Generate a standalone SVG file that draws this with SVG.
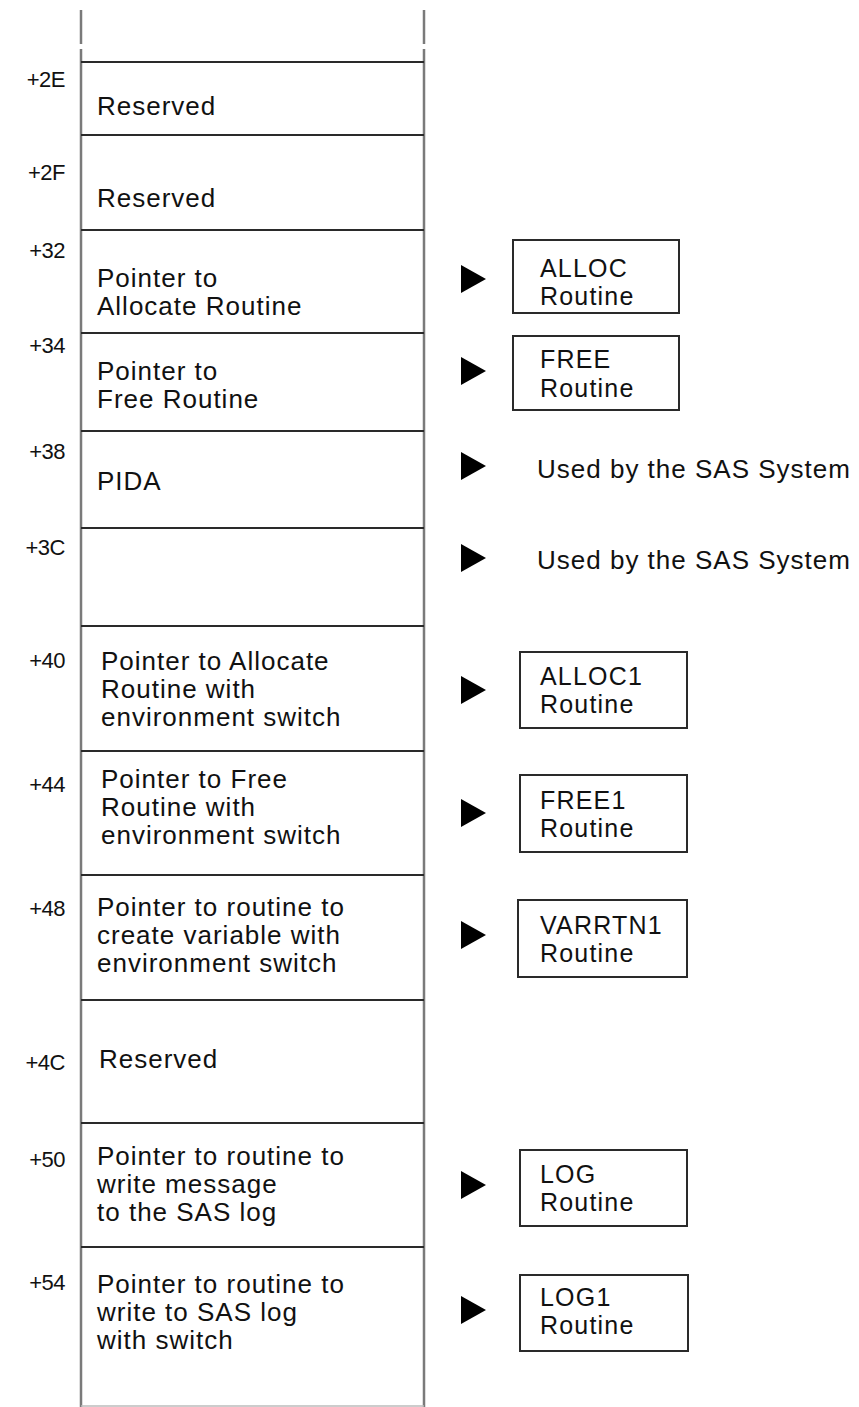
<svg xmlns="http://www.w3.org/2000/svg" width="859" height="1407" viewBox="0 0 859 1407">
<style>
.t{font-family:"Liberation Sans",Arial,sans-serif;font-size:26px;letter-spacing:1px;fill:#111}
.r{font-family:"Liberation Sans",Arial,sans-serif;font-size:25px;letter-spacing:1.2px;fill:#111}
.o{font-family:"Liberation Sans",Arial,sans-serif;font-size:22px;letter-spacing:-0.5px;fill:#111;text-anchor:end}
.v{stroke:#7a7a7a;stroke-width:2.5;fill:none}
.h{stroke:#2a2a2a;stroke-width:2;fill:none}
.b{stroke:#2a2a2a;stroke-width:2;fill:#fff}
.a{fill:#000}
</style>
<rect width="859" height="1407" fill="#fff"/>
<g id="column">
<line class="v" x1="81" y1="10" x2="81" y2="44"/>
<line class="v" x1="424" y1="10" x2="424" y2="44"/>
<line class="v" x1="81" y1="49" x2="81" y2="1407"/>
<line class="v" x1="424" y1="49" x2="424" y2="1407"/>
<line x1="81" y1="1406" x2="424" y2="1406" stroke="#bbb" stroke-width="1.5"/>
</g>
<g id="row-2E">
<line class="h" x1="81" y1="62" x2="424" y2="62"/>
<text class="o" x="65" y="87">+2E</text>
<text class="t" x="97" y="115">Reserved</text>
</g>
<g id="row-2F">
<line class="h" x1="81" y1="135" x2="424" y2="135"/>
<text class="o" x="65" y="180">+2F</text>
<text class="t" x="97" y="207">Reserved</text>
</g>
<g id="row-32">
<line class="h" x1="81" y1="230" x2="424" y2="230"/>
<text class="o" x="65" y="258">+32</text>
<text class="t" x="97" y="287">Pointer to</text>
<text class="t" x="97" y="315">Allocate Routine</text>
</g>
<g id="row-34">
<line class="h" x1="81" y1="333" x2="424" y2="333"/>
<text class="o" x="65" y="353">+34</text>
<text class="t" x="97" y="380">Pointer to</text>
<text class="t" x="97" y="408">Free Routine</text>
</g>
<g id="row-38">
<line class="h" x1="81" y1="431" x2="424" y2="431"/>
<text class="o" x="65" y="459">+38</text>
<text class="t" x="97" y="490">PIDA</text>
</g>
<g id="row-3C">
<line class="h" x1="81" y1="528" x2="424" y2="528"/>
<text class="o" x="65" y="555">+3C</text>
</g>
<g id="row-40">
<line class="h" x1="81" y1="626" x2="424" y2="626"/>
<text class="o" x="65" y="668">+40</text>
<text class="t" x="101" y="670">Pointer to Allocate</text>
<text class="t" x="101" y="698">Routine with</text>
<text class="t" x="101" y="726">environment switch</text>
</g>
<g id="row-44">
<line class="h" x1="81" y1="751" x2="424" y2="751"/>
<text class="o" x="65" y="792">+44</text>
<text class="t" x="101" y="788">Pointer to Free</text>
<text class="t" x="101" y="816">Routine with</text>
<text class="t" x="101" y="844">environment switch</text>
</g>
<g id="row-48">
<line class="h" x1="81" y1="875" x2="424" y2="875"/>
<text class="o" x="65" y="916">+48</text>
<text class="t" x="97" y="916">Pointer to routine to</text>
<text class="t" x="97" y="944">create variable with</text>
<text class="t" x="97" y="972">environment switch</text>
</g>
<g id="row-4C">
<line class="h" x1="81" y1="1000" x2="424" y2="1000"/>
<text class="o" x="65" y="1070">+4C</text>
<text class="t" x="99" y="1068">Reserved</text>
</g>
<g id="row-50">
<line class="h" x1="81" y1="1123" x2="424" y2="1123"/>
<text class="o" x="65" y="1167">+50</text>
<text class="t" x="97" y="1165">Pointer to routine to</text>
<text class="t" x="97" y="1193">write message</text>
<text class="t" x="97" y="1221">to the SAS log</text>
</g>
<g id="row-54">
<line class="h" x1="81" y1="1247" x2="424" y2="1247"/>
<text class="o" x="65" y="1290">+54</text>
<text class="t" x="97" y="1293">Pointer to routine to</text>
<text class="t" x="97" y="1321">write to SAS log</text>
<text class="t" x="97" y="1349">with switch</text>
</g>
<g id="alloc">
<rect class="b" x="513" y="240" width="166" height="73"/>
<text class="r" x="540" y="277">ALLOC</text>
<text class="r" x="540" y="305">Routine</text>
</g>
<g id="free">
<rect class="b" x="513" y="336" width="166" height="74"/>
<text class="r" x="540" y="368">FREE</text>
<text class="r" x="540" y="397">Routine</text>
</g>
<g id="sas1">
<text class="t" x="537" y="478">Used by the SAS System</text>
</g>
<g id="sas2">
<text class="t" x="537" y="569">Used by the SAS System</text>
</g>
<g id="alloc1">
<rect class="b" x="520" y="652" width="167" height="76"/>
<text class="r" x="540" y="685">ALLOC1</text>
<text class="r" x="540" y="713">Routine</text>
</g>
<g id="free1">
<rect class="b" x="520" y="775" width="167" height="77"/>
<text class="r" x="540" y="809">FREE1</text>
<text class="r" x="540" y="837">Routine</text>
</g>
<g id="varrtn1">
<rect class="b" x="518" y="900" width="169" height="77"/>
<text class="r" x="540" y="934">VARRTN1</text>
<text class="r" x="540" y="962">Routine</text>
</g>
<g id="log">
<rect class="b" x="520" y="1150" width="167" height="76"/>
<text class="r" x="540" y="1183">LOG</text>
<text class="r" x="540" y="1211">Routine</text>
</g>
<g id="log1">
<rect class="b" x="520" y="1275" width="168" height="76"/>
<text class="r" x="540" y="1306">LOG1</text>
<text class="r" x="540" y="1334">Routine</text>
</g>
<g id="connectors">
<polygon class="a" points="461,265 461,293 486,279"/>
<polygon class="a" points="461,357 461,385 486,371"/>
<polygon class="a" points="461,452 461,480 486,466"/>
<polygon class="a" points="461,544 461,572 486,558"/>
<polygon class="a" points="461,676 461,704 486,690"/>
<polygon class="a" points="461,799 461,827 486,813"/>
<polygon class="a" points="461,921 461,949 486,935"/>
<polygon class="a" points="461,1171 461,1199 486,1185"/>
<polygon class="a" points="461,1296 461,1324 486,1310"/>
</g>
</svg>
